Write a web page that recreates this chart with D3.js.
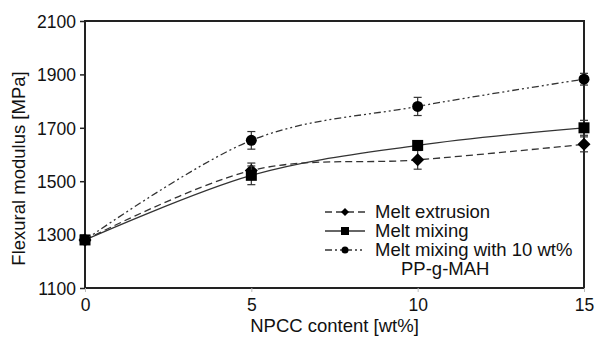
<!DOCTYPE html>
<html>
<head>
<meta charset="utf-8">
<script src="https://cdn.jsdelivr.net/npm/d3@7"></script>
<style>
  body { margin: 0; background: #fff; }
  text { font-family: "Liberation Sans", Arial, sans-serif; fill: #111; }
</style>
</head>
<body>
<svg id="chart"></svg>
<script>
// data
var content = [0, 5, 10, 15];
var extrusion = [1280, 1540, 1580, 1638];
var extrusionErr = [10, 28, 35, 28];
var mixing = [1280, 1522, 1634, 1700];
var mixingErr = [10, 35, 18, 28];
var mah = [1280, 1653, 1780, 1882];
var mahErr = [10, 33, 34, 22];
var yTicks = [1100, 1300, 1500, 1700, 1900, 2100];
var xTicks = [0, 5, 10, 15];
var seriesNames = ["Melt extrusion", "Melt mixing", "Melt mixing with 10 wt%"];

var WIDTH = 596, HEIGHT = 338;
var margin = {left: 85, right: 12, top: 21, bottom: 50};

var svg = d3.select("#chart").attr("width", WIDTH).attr("height", HEIGHT);

var x = d3.scaleLinear().domain([0, 15]).range([margin.left, WIDTH - margin.right]);
var y = d3.scaleLinear().domain([1100, 2100]).range([HEIGHT - margin.bottom, margin.top]);

// frame
svg.append("rect")
    .attr("x", x(0)).attr("y", y(2100))
    .attr("width", x(15) - x(0)).attr("height", y(1100) - y(2100))
    .attr("fill", "none").attr("stroke", "#222").attr("stroke-width", 2);

// y axis
var yAxis = svg.append("g")
    .attr("transform", "translate(" + x(0) + ",0)")
    .call(d3.axisLeft(y).tickValues(yTicks).tickSize(5).tickPadding(4).tickFormat(d3.format("d")));
yAxis.select(".domain").remove();
yAxis.selectAll("line").attr("stroke", "#222").attr("stroke-width", 1.5);
yAxis.selectAll("text").style("font-size", "17.5px").attr("fill", "#111")
    .attr("dy", "0.36em");

// x axis
var xAxis = svg.append("g")
    .attr("transform", "translate(0," + y(1100) + ")")
    .call(d3.axisBottom(x).tickValues(xTicks).tickSize(4).tickPadding(7));
xAxis.select(".domain").remove();
xAxis.selectAll("line").attr("stroke", "#bbb").attr("stroke-width", 1);
xAxis.selectAll("text").style("font-size", "17.5px").attr("fill", "#111");

// axis titles
svg.append("text")
    .attr("x", (x(0) + x(15)) / 2).attr("y", 332)
    .attr("text-anchor", "middle").style("font-size", "18.5px")
    .text("NPCC content [wt%]");
svg.append("text")
    .attr("transform", "translate(25," + ((y(1100) + y(2100)) / 2 + 14) + ")rotate(-90)")
    .attr("text-anchor", "middle").style("font-size", "18.5px")
    .text("Flexural modulus [MPa]");

var series = [
  {name: seriesNames[0], values: extrusion, err: extrusionErr, dash: "7,4", marker: "diamond"},
  {name: seriesNames[1], values: mixing, err: mixingErr, dash: null, marker: "square"},
  {name: seriesNames[2], values: mah, err: mahErr, dash: "7,3,2,3,2,3", marker: "circle"}
];

var line = d3.line()
    .x(function(d) { return x(d.x); })
    .y(function(d) { return y(d.y); })
    .curve(d3.curveCardinal.tension(0));

function points(s) {
  return content.map(function(c, i) { return {x: c, y: s.values[i], e: s.err[i]}; });
}

function drawMarker(g, type, cx, cy) {
  if (type === "diamond") {
    g.append("path")
      .attr("d", "M" + cx + "," + (cy - 6.5) + "L" + (cx + 6.5) + "," + cy + "L" + cx + "," + (cy + 6.5) + "L" + (cx - 6.5) + "," + cy + "Z")
      .attr("fill", "#000");
  } else if (type === "square") {
    g.append("rect").attr("x", cx - 5.5).attr("y", cy - 5.5).attr("width", 11).attr("height", 11).attr("fill", "#000");
  } else {
    g.append("circle").attr("cx", cx).attr("cy", cy).attr("r", 5.5).attr("fill", "#000");
  }
}

series.forEach(function(s) {
  var g = svg.append("g");
  var pts = points(s);
  g.append("path")
    .datum(pts)
    .attr("d", line)
    .attr("fill", "none")
    .attr("stroke", "#333")
    .attr("stroke-width", 1.3)
    .attr("stroke-dasharray", s.dash);

  pts.forEach(function(p, i) {
    if (i === 0) return;
    var cx = x(p.x);
    g.append("line").attr("x1", cx).attr("x2", cx)
      .attr("y1", y(p.y - p.e)).attr("y2", y(p.y + p.e))
      .attr("stroke", "#333").attr("stroke-width", 1.2);
    [p.y - p.e, p.y + p.e].forEach(function(v) {
      g.append("line").attr("x1", cx - 4).attr("x2", cx + 4)
        .attr("y1", y(v)).attr("y2", y(v))
        .attr("stroke", "#333").attr("stroke-width", 1.2);
    });
  });
  pts.forEach(function(p) {
    drawMarker(g, s.marker, x(p.x), y(p.y));
  });
});

// legend
var legend = svg.append("g");
var legendY = [212, 231, 250];
series.forEach(function(s, i) {
  legend.append("line")
    .attr("x1", 325).attr("x2", 365)
    .attr("y1", legendY[i]).attr("y2", legendY[i])
    .attr("stroke", "#333").attr("stroke-width", 1.3)
    .attr("stroke-dasharray", s.dash);
  var lg = legend.append("g");
  if (s.marker === "diamond") {
    lg.append("path").attr("d", "M345," + (legendY[i] - 4) + "L349," + legendY[i] + "L345," + (legendY[i] + 4) + "L341," + legendY[i] + "Z").attr("fill", "#000");
  } else if (s.marker === "square") {
    lg.append("rect").attr("x", 341).attr("y", legendY[i] - 4).attr("width", 8).attr("height", 8).attr("fill", "#000");
  } else {
    lg.append("circle").attr("cx", 345).attr("cy", legendY[i]).attr("r", 3.5).attr("fill", "#000");
  }
  legend.append("text")
    .attr("x", 375).attr("y", legendY[i] + 6)
    .style("font-size", "18.5px")
    .text(s.name);
});
legend.append("text")
  .attr("x", 401).attr("y", 275)
  .style("font-size", "18.5px")
  .text("PP-g-MAH");
</script>
</body>
</html>
